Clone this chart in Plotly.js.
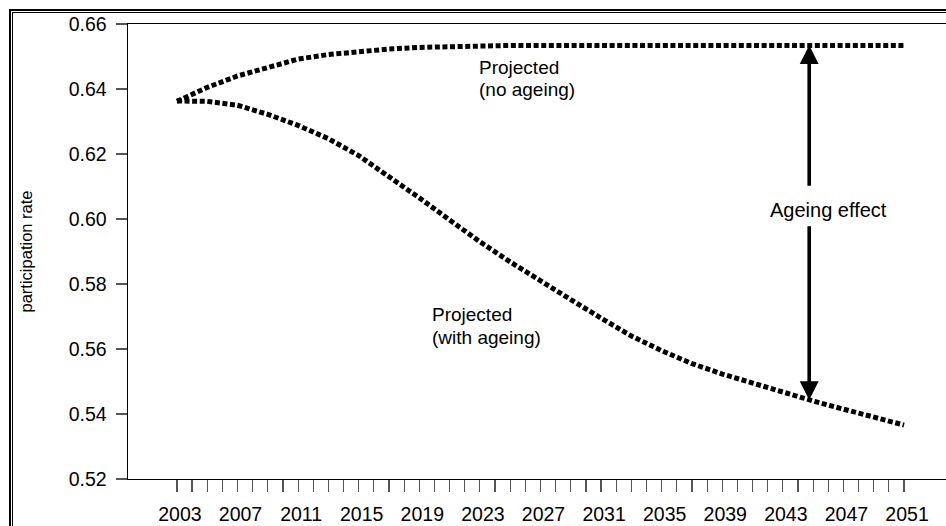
<!DOCTYPE html>
<html>
<head>
<meta charset="utf-8">
<script src="https://cdn.plot.ly/plotly-3.0.1.min.js"></script>
<style>
  html, body { margin: 0; padding: 0; background: #fff; overflow: hidden; }
  #wrap { position: relative; width: 946px; height: 526px; overflow: hidden; }
  #chart { position: absolute; left: 0; top: 0; width: 946px; height: 526px; }
  .frame { position: absolute; width: 2000px; height: 2000px; pointer-events: none; box-sizing: border-box; }
  #frameOuter { left: 9px; top: 9px; border-left: 2px solid #000; border-top: 2px solid #000; }
  #frameInner { left: 12px; top: 12px; border-left: 1px solid #000; border-top: 1px solid #000; }
</style>
</head>
<body>
<div id="wrap">
  <div id="chart"></div>
  <div class="frame" id="frameOuter"></div>
  <div class="frame" id="frameInner"></div>
</div>
<script>
// ---- data ----
const years = [2003, 2005, 2007, 2009, 2011, 2013, 2015, 2017, 2019, 2021, 2023, 2025, 2027,
               2029, 2031, 2033, 2035, 2037, 2039, 2041, 2043, 2045, 2047, 2049, 2051];
const noAgeing = [0.6362, 0.6405, 0.6440, 0.6468, 0.6492, 0.6506, 0.6515, 0.6523, 0.6528, 0.6531,
                  0.6533, 0.6534, 0.6534, 0.6534, 0.6534, 0.6534, 0.6534, 0.6534, 0.6534, 0.6534,
                  0.6534, 0.6534, 0.6534, 0.6534, 0.6534];
const withAgeing = [0.6363, 0.6362, 0.6350, 0.6322, 0.6288, 0.6247, 0.6195, 0.6132, 0.6065, 0.5997,
                    0.5930, 0.5868, 0.5808, 0.5752, 0.5695, 0.5640, 0.5595, 0.5555, 0.5523, 0.5494,
                    0.5466, 0.5440, 0.5415, 0.5391, 0.5366];
const tickYears = [];
for (let y = 2003; y <= 2051; y++) tickYears.push(y);
const tickLabels = tickYears.map(y => ((y - 2003) % 4 === 0 ? String(y) : ''));
const yTicks = [0.52, 0.54, 0.56, 0.58, 0.60, 0.62, 0.64, 0.66];
const yTickLabels = yTicks.map(v => v.toFixed(2));
const yTitle = 'participation rate';
const labelNoAgeing = ['Projected', '(no ageing)'];
const labelWithAgeing = ['Projected', '(with ageing)'];
const labelEffect = 'Ageing effect';

// ---- layout geometry ----
const W = 946, H = 526;
const M = { l: 128, r: 0, t: 24, b: 47 };
const pw = W - M.l - M.r, ph = H - M.t - M.b;
const px = x => (x - M.l) / pw;
const py = y => 1 - (y - M.t) / ph;

const FONT = '"Liberation Sans", Arial, Helvetica, sans-serif';
const dotLine = { color: '#000', width: 5, dash: '5px,2.6px' };

const traces = [
  { x: years, y: noAgeing, type: 'scatter', mode: 'lines', line: dotLine, hoverinfo: 'skip', name: 'no ageing' },
  { x: years, y: withAgeing, type: 'scatter', mode: 'lines', line: dotLine, hoverinfo: 'skip', name: 'with ageing' }
];

const arrowX = 2044.74;
const txt = (text, xPix, yPix, xanchor, size) => ({
  text: text, x: px(xPix), y: py(yPix), xref: 'paper', yref: 'paper', xanchor: xanchor, yanchor: 'middle',
  showarrow: false, borderpad: 0, font: { family: FONT, size: size, color: '#000' }
});

const annotations = [
  txt(labelNoAgeing[0], 478, 67.5, 'left', 19),
  txt(labelNoAgeing[1], 478, 89.5, 'left', 19),
  txt(labelWithAgeing[0], 431, 314, 'left', 19),
  txt(labelWithAgeing[1], 431, 337, 'left', 19),
  txt(labelEffect, 828, 210, 'center', 20),
  { text: '', x: arrowX, y: 0.6535, ax: arrowX, ay: 0.6098, xref: 'x', yref: 'y', axref: 'x', ayref: 'y',
    showarrow: true, arrowhead: 2, arrowsize: 1.05, arrowwidth: 3.6, arrowcolor: '#000', standoff: 0 },
  { text: '', x: arrowX, y: 0.5443, ax: arrowX, ay: 0.5982, xref: 'x', yref: 'y', axref: 'x', ayref: 'y',
    showarrow: true, arrowhead: 2, arrowsize: 1.05, arrowwidth: 3.6, arrowcolor: '#000', standoff: 0 }
];

const layout = {
  width: W, height: H,
  margin: M,
  paper_bgcolor: '#fff', plot_bgcolor: '#fff',
  showlegend: false,
  font: { family: FONT, color: '#000' },
  xaxis: {
    range: [1999.77, 2053.77],
    tickmode: 'array', tickvals: tickYears, ticktext: tickLabels,
    ticks: 'outside', ticklen: 12, tickwidth: 1.2, tickcolor: '#555',
    ticklabelstandoff: 5, ticklabelshift: 3,
    tickfont: { family: FONT, size: 19.5, color: '#000' },
    showline: true, linecolor: '#000', linewidth: 1.4, mirror: true,
    showgrid: false, zeroline: false, fixedrange: true
  },
  yaxis: {
    range: [0.52, 0.66],
    tickmode: 'array', tickvals: yTicks, ticktext: yTickLabels,
    ticks: 'outside', ticklen: 11, tickwidth: 1.2, tickcolor: '#555',
    ticklabelstandoff: 5,
    tickfont: { family: FONT, size: 19.5, color: '#000' },
    showline: true, linecolor: '#000', linewidth: 1.4, mirror: false,
    showgrid: false, zeroline: false, fixedrange: true,
    title: { text: yTitle, font: { family: FONT, size: 16.5, color: '#000' }, standoff: 32 }
  },
  annotations: annotations
};

Plotly.newPlot('chart', traces, layout, { staticPlot: true, displayModeBar: false });
</script>
</body>
</html>
